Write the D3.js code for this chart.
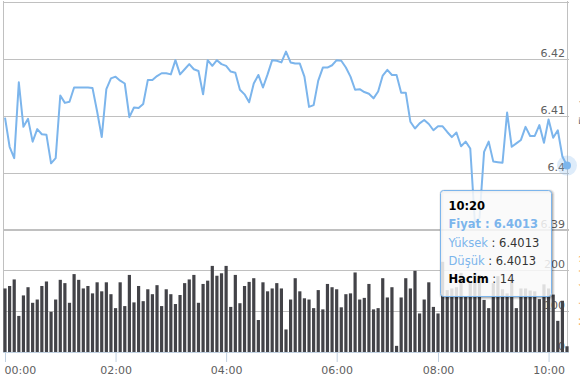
<!DOCTYPE html>
<html>
<head>
<meta charset="utf-8">
<script src="https://cdn.jsdelivr.net/npm/d3@7"></script>
<style>
  body { margin: 0; background: #fff; }
  svg { display: block; font-family: "DejaVu Sans", sans-serif; }
</style>
</head>
<body>
<svg width="580" height="392"></svg>
<script>
// 5 minute points, 07:10 and 07:15 are missing
var times = ("00:00 00:05 00:10 00:15 00:20 00:25 00:30 00:35 00:40 00:45 00:50 00:55 " +
    "01:00 01:05 01:10 01:15 01:20 01:25 01:30 01:35 01:40 01:45 01:50 01:55 " +
    "02:00 02:05 02:10 02:15 02:20 02:25 02:30 02:35 02:40 02:45 02:50 02:55 " +
    "03:00 03:05 03:10 03:15 03:20 03:25 03:30 03:35 03:40 03:45 03:50 03:55 " +
    "04:00 04:05 04:10 04:15 04:20 04:25 04:30 04:35 04:40 04:45 04:50 04:55 " +
    "05:00 05:05 05:10 05:15 05:20 05:25 05:30 05:35 05:40 05:45 05:50 05:55 " +
    "06:00 06:05 06:10 06:15 06:20 06:25 06:30 06:35 06:40 06:45 06:50 06:55 " +
    "07:00 07:05 07:20 07:25 07:30 07:35 07:40 07:45 07:50 07:55 " +
    "08:00 08:05 08:10 08:15 08:20 08:25 08:30 08:35 08:40 08:45 08:50 08:55 " +
    "09:00 09:05 09:10 09:15 09:20 09:25 09:30 09:35 09:40 09:45 09:50 09:55 " +
    "10:00 10:05 10:10 10:15 10:20").split(" ");

// Fiyat
var prices = [
    6.4097, 6.4046, 6.4026, 6.4159, 6.4081, 6.4095, 6.4055, 6.4077, 6.4068, 6.4067,
    6.4017, 6.4026, 6.4136, 6.4123, 6.4125, 6.4150, 6.4150, 6.4150, 6.4150, 6.4149,
    6.4108, 6.4063, 6.4147, 6.4166, 6.4169, 6.4162, 6.4157, 6.4098, 6.4115, 6.4114,
    6.4121, 6.4163, 6.4163, 6.4170, 6.4175, 6.4175, 6.4173, 6.4198, 6.4173, 6.4182,
    6.4191, 6.4182, 6.4179, 6.4138, 6.4198, 6.4188, 6.4198, 6.4191, 6.4188, 6.4178,
    6.4176, 6.4146, 6.4138, 6.4124, 6.4157, 6.4172, 6.4150, 6.4173, 6.4198, 6.4197,
    6.4194, 6.4213, 6.4194, 6.4192, 6.4192, 6.4169, 6.4116, 6.4119, 6.4162, 6.4185,
    6.4185, 6.4189, 6.4198, 6.4197, 6.4185, 6.4169, 6.4146, 6.4147, 6.4142, 6.4139,
    6.4131, 6.4143, 6.4171, 6.4181, 6.4172, 6.4172, 6.4141, 6.4141, 6.4090, 6.4078,
    6.4087, 6.4093, 6.4086, 6.4075, 6.4082, 6.4082, 6.4072, 6.4063, 6.4071, 6.4047,
    6.4055, 6.4043, 6.3914, 6.3921, 6.4037, 6.4055, 6.4020, 6.4019, 6.4018, 6.4106,
    6.4046, 6.4052, 6.4058, 6.4081, 6.4065, 6.4065, 6.4084, 6.4053, 6.4094, 6.4062,
    6.4075, 6.4029, 6.4013];

// Hacim
var volumes = [
    155, 161, 177, 88, 138, 158, 120, 128, 161, 172,
    98, 128, 176, 168, 120, 190, 176, 155, 161, 143,
    170, 148, 170, 141, 107, 170, 112, 188, 121, 161,
    124, 153, 141, 163, 112, 153, 141, 117, 139, 168,
    177, 188, 120, 166, 174, 210, 186, 192, 210, 110,
    188, 119, 161, 171, 180, 78, 170, 148, 155, 168,
    155, 55, 128, 180, 148, 131, 128, 107, 151, 104,
    166, 158, 153, 109, 141, 143, 194, 128, 132, 166,
    104, 107, 180, 133, 158, 15, 133, 180, 155, 198,
    94, 128, 170, 110, 94, 220, 151, 155, 158, 193,
    135, 168, 193, 188, 127, 107, 168, 185, 153, 143,
    180, 107, 155, 155, 150, 148, 129, 165, 155, 140,
    76, 125, 14];

var priceTicks = [6.39, 6.40, 6.41, 6.42, 6.43];
var priceLabels = [6.39, 6.40, 6.41, 6.42];
var volumeTicks = [100, 200, 300];
var volumeLabels = [0, 100, 200];
var timeTicks = ["00:00", "02:00", "04:00", "06:00", "08:00", "10:00"];
var hoverTime = "10:20";

var svg = d3.select("svg");

// plot area
var left = 3, right = 569;

var x = d3.scaleLinear().domain([0, times.length - 1]).range([5, 567]);
var yPrice = d3.scaleLinear().domain([6.39, 6.43]).range([230, 2]);
var yVol = d3.scaleLinear().domain([0, 300]).range([352, 229]);

var grid = svg.append("g");

grid.selectAll("line.pg")
    .data(priceTicks)
    .enter().append("line")
    .attr("x1", left).attr("x2", right)
    .attr("y1", d => Math.round(yPrice(d)) + 0.5)
    .attr("y2", d => Math.round(yPrice(d)) + 0.5)
    .attr("stroke", "#c0c0c0");

grid.selectAll("line.vg")
    .data(volumeTicks)
    .enter().append("line")
    .attr("x1", left).attr("x2", right)
    .attr("y1", d => Math.round(yVol(d)) + 0.5)
    .attr("y2", d => Math.round(yVol(d)) + 0.5)
    .attr("stroke", "#c0c0c0");

// left border
grid.append("line")
    .attr("x1", left + 0.5).attr("x2", left + 0.5)
    .attr("y1", 1).attr("y2", 352)
    .attr("stroke", "#c0c0c0");

// y labels (right side, above the grid line)
var priceAxis = svg.append("g")
    .attr("transform", "translate(" + (right - 4) + ",0)")
    .call(d3.axisLeft(yPrice).tickValues(priceLabels).tickSize(0).tickPadding(0)
        .tickFormat(d => String(+d.toFixed(2))));
var volAxis = svg.append("g")
    .attr("transform", "translate(" + (right - 4) + ",0)")
    .call(d3.axisLeft(yVol).tickValues(volumeLabels).tickSize(0).tickPadding(0));

[priceAxis, volAxis].forEach(function (g) {
    g.select(".domain").remove();
    g.selectAll("text")
        .attr("dy", "-0.25em")
        .attr("fill", "#606060")
        .style("font-family", "DejaVu Sans")
        .style("font-size", "11px");
});

// axis titles, mostly outside the window like in the original
svg.append("text")
    .attr("transform", "translate(587,112) rotate(-90)")
    .attr("text-anchor", "middle")
    .attr("fill", "#707070")
    .style("font-size", "11px")
    .text("Fiyat");
svg.append("text")
    .attr("transform", "translate(587,290) rotate(-90)")
    .attr("text-anchor", "middle")
    .attr("fill", "#f7a35c")
    .style("font-size", "11px")
    .text("Hacim (adet)");

// crosshair on hovered point
var hi = times.indexOf(hoverTime);
svg.append("line")
    .attr("x1", Math.round(x(hi)) + 0.5).attr("x2", Math.round(x(hi)) + 0.5)
    .attr("y1", 1).attr("y2", 352)
    .attr("stroke", "#c0c0c0");

// volume bars
svg.append("g")
    .selectAll("rect")
    .data(volumes)
    .enter().append("rect")
    .attr("x", (d, i) => x(i) - 1.6)
    .attr("width", 3.2)
    .attr("y", d => yVol(d))
    .attr("height", d => yVol(0) - yVol(d))
    .attr("fill", "#434348");

// x axis
var tickIdx = timeTicks.map(t => times.indexOf(t));
var xAxis = svg.append("g")
    .attr("transform", "translate(0,352)")
    .call(d3.axisBottom(x).tickValues(tickIdx).tickFormat(i => times[i]).tickSize(10).tickPadding(4));
xAxis.select(".domain").remove();
xAxis.selectAll("line").attr("stroke", "#c0d0e0");
xAxis.selectAll("text")
    .attr("fill", "#606060")
    .style("font-family", "DejaVu Sans")
    .style("font-size", "11px");
// first label is pushed inside the chart
xAxis.selectAll("text")
    .filter(i => x(i) < 20)
    .attr("text-anchor", "start")
    .attr("x", -1);
svg.append("line")
    .attr("x1", left).attr("x2", right)
    .attr("y1", 352.5).attr("y2", 352.5)
    .attr("stroke", "#c0d0e0");

// price line
var line = d3.line()
    .x((d, i) => x(i))
    .y(d => yPrice(d));

svg.append("path")
    .datum(prices)
    .attr("d", line)
    .attr("fill", "none")
    .attr("stroke", "#7cb5ec")
    .attr("stroke-width", 2)
    .attr("stroke-linejoin", "round");

// hover marker
svg.append("circle")
    .attr("cx", x(hi)).attr("cy", yPrice(prices[hi]))
    .attr("r", 10)
    .attr("fill", "#7cb5ec")
    .attr("fill-opacity", 0.25);
svg.append("circle")
    .attr("cx", x(hi)).attr("cy", yPrice(prices[hi]))
    .attr("r", 4)
    .attr("fill", "#7cb5ec");

// tooltip
var tip = svg.append("g").attr("transform", "translate(440.5,190.5)");
var tw = 111, th = 106;
[5, 3, 1].forEach(function (s, k) {
    tip.append("rect")
        .attr("x", 1).attr("y", 1)
        .attr("width", tw).attr("height", th).attr("rx", 3)
        .attr("fill", "none")
        .attr("stroke", "#000")
        .attr("stroke-opacity", 0.05 * (k + 1))
        .attr("stroke-width", s);
});
tip.append("rect")
    .attr("width", tw).attr("height", th).attr("rx", 3)
    .attr("fill", "rgba(249,249,249,0.85)")
    .attr("stroke", "#7cb5ec");

var val = prices[hi].toFixed(4);
var tipFont = "11.5px";

tip.append("text").attr("x", 8).attr("y", 19.5)
    .style("font-size", tipFont).style("font-weight", "bold").attr("fill", "#000")
    .text(hoverTime);

tip.append("text").attr("x", 8).attr("y", 37.5)
    .style("font-size", tipFont).style("font-weight", "bold").attr("fill", "#7cb5ec")
    .text("Fiyat : " + val);

var rows = [["Yüksek", val], ["Düşük", val]];
rows.forEach(function (r, k) {
    var t = tip.append("text").attr("x", 8).attr("y", 56 + k * 18)
        .style("font-size", tipFont);
    t.append("tspan").attr("fill", "#7cb5ec").text(r[0]);
    t.append("tspan").attr("fill", "#333").text(" : " + r[1]);
});

var th4 = tip.append("text").attr("x", 8).attr("y", 92)
    .style("font-size", tipFont);
th4.append("tspan").attr("fill", "#000").style("font-weight", "bold").text("Hacim");
th4.append("tspan").attr("fill", "#333").text(" : " + volumes[hi]);
</script>
</body>
</html>
